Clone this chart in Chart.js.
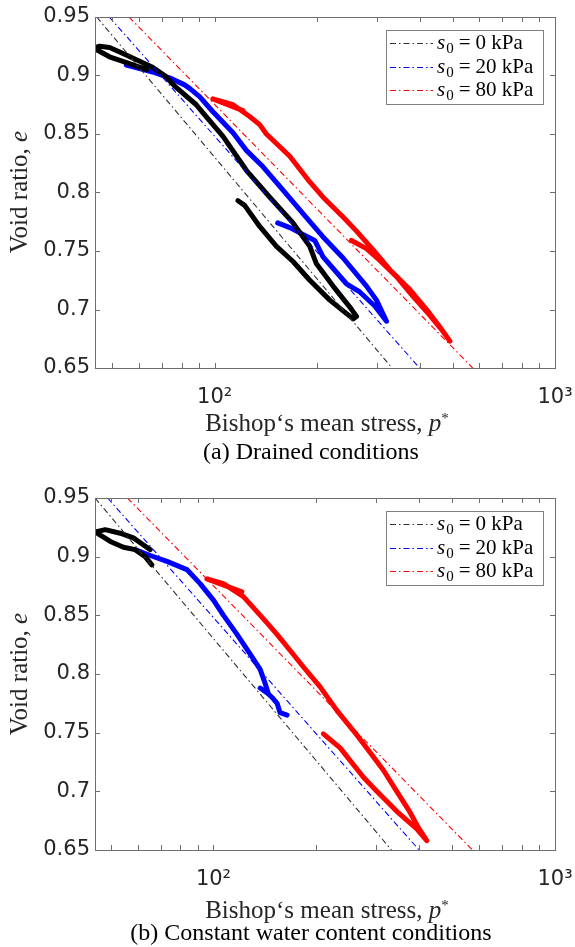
<!DOCTYPE html>
<html>
<head>
<meta charset="utf-8">
<script src="https://cdn.jsdelivr.net/npm/chart.js@4.4.0/dist/chart.umd.min.js"></script>
<style>
  body { margin: 0; background: #fff; }
  #page { position: relative; width: 575px; height: 947px; overflow: hidden; }
  canvas { position: absolute; left: 0; }
  .ytitle, .xtitle, .caption {
    position: absolute; white-space: nowrap; line-height: 1;
    font-family: "Liberation Serif", "Times New Roman", serif;
  }
  .ytitle { left: 18px; font-size: 25px; color: #262626; transform: translate(-50%, -50%) rotate(-90deg); }
  .xtitle { left: 327px; font-size: 25px; color: #262626; transform: translateX(-50%); }
  .caption { left: 311px; font-size: 24px; color: #000; transform: translateX(-50%); }
  sup { font-size: 60%; line-height: 0; vertical-align: 0.55em; }
</style>
</head>
<body>
<div id="page">
  <canvas id="drained" width="575" height="470" style="top:0"></canvas>
  <canvas id="cwc" width="575" height="477" style="top:470px"></canvas>

  <div class="ytitle" style="top:192px">Void ratio, <i>e</i></div>
  <div class="xtitle" style="top:410px">Bishop‘s mean stress, <i>p</i><sup>*</sup></div>
  <div class="caption" style="top:439px">(a) Drained conditions</div>

  <div class="ytitle" style="top:674px">Void ratio, <i>e</i></div>
  <div class="xtitle" style="top:897px">Bishop‘s mean stress, <i>p</i><sup>*</sup></div>
  <div class="caption" style="top:920px">(b) Constant water content conditions</div>
</div>

<script>
// axes
const yTicks = [0.65, 0.7, 0.75, 0.8, 0.85, 0.9, 0.95];
const xTickValues = [50, 60, 70, 80, 90, 100, 200, 300, 400, 500, 600, 700, 800, 900, 1000];
const xLabelValues = [100, 1000];
const xLabelText = ["10²", "10³"];

// reference lines (same in both panels)
const refS0 = [0, 20, 80];
const refE = [0.95, 0.65];
const refP = [[45, 332], [49, 400], [56, 573]];

// (a) drained
const drainedP0 = [63.1, 55.1, 49.1, 45.0, 44.6, 45.9, 49.1, 52.6, 57.4, 65.7, 71.3, 76.3, 88.3, 92.4, 105.8, 123.9, 145.1, 169.9, 190.3, 199.1, 222.8, 251.2, 261.1, 255.1, 217.9, 190.3, 169.9, 151.9, 135.6, 122.5, 117.1];
const drainedE0 = [0.905, 0.911, 0.916, 0.922, 0.924, 0.925, 0.924, 0.920, 0.915, 0.907, 0.900, 0.891, 0.875, 0.868, 0.848, 0.819, 0.796, 0.774, 0.754, 0.739, 0.720, 0.701, 0.694, 0.692, 0.708, 0.725, 0.741, 0.754, 0.771, 0.789, 0.793];
const drainedP20 = [55.0, 60.2, 65.7, 73.7, 81.6, 84.4, 90.3, 98.8, 113.2, 123.9, 138.7, 158.8, 181.8, 208.2, 238.4, 279.3, 298.9, 319.8, 295.4, 266.9, 243.9, 208.2, 196.8, 166.2, 153.2];
const drainedE20 = [0.909, 0.906, 0.903, 0.898, 0.892, 0.889, 0.882, 0.869, 0.851, 0.836, 0.822, 0.802, 0.782, 0.762, 0.744, 0.720, 0.708, 0.690, 0.703, 0.715, 0.722, 0.745, 0.759, 0.770, 0.774];
const drainedP80 = [121.1, 98.8, 113.2, 126.7, 135.6, 141.9, 166.2, 190.3, 208.2, 238.4, 261.1, 292.1, 327.0, 374.6, 419.4, 458.9, 491.1, 469.4, 428.9, 383.1, 342.2, 305.6, 279.3, 252.3];
const drainedE80 = [0.870, 0.880, 0.875, 0.865, 0.858, 0.850, 0.831, 0.809, 0.796, 0.779, 0.767, 0.751, 0.734, 0.717, 0.700, 0.685, 0.673, 0.681, 0.695, 0.711, 0.728, 0.742, 0.752, 0.759];

// (b) constant water content
const cwP0 = [65.3, 62.4, 58.3, 53.3, 48.2, 45.1, 49.9, 54.5, 59.0, 63.1, 66.0];
const cwE0 = [0.906, 0.910, 0.916, 0.920, 0.923, 0.921, 0.913, 0.908, 0.906, 0.900, 0.893];
const cwP20 = [59.0, 65.3, 73.1, 83.6, 91.4, 100.0, 107.0, 117.1, 128.1, 137.0, 141.7, 144.9, 137.0, 144.9, 148.5, 153.6, 156.7, 164.3];
const cwE20 = [0.906, 0.901, 0.896, 0.889, 0.877, 0.863, 0.850, 0.834, 0.817, 0.804, 0.792, 0.783, 0.788, 0.783, 0.780, 0.775, 0.767, 0.765];
const cwP80 = [121.1, 95.7, 107.0, 122.4, 140.1, 153.3, 167.7, 183.4, 205.3, 229.7, 262.9, 287.5, 314.5, 344.1, 376.5, 398.1, 421.3, 393.8, 344.1, 300.8, 274.8, 234.9, 209.8];
const cwE80 = [0.870, 0.881, 0.877, 0.866, 0.847, 0.834, 0.820, 0.806, 0.789, 0.769, 0.748, 0.733, 0.718, 0.700, 0.682, 0.669, 0.658, 0.668, 0.683, 0.700, 0.712, 0.737, 0.749];

const refColors = ["#303030", "#0000ff", "#ff0000"];
const curveColors = ["#000000", "#0000ff", "#ff0000"];
const dashDot = [6, 3, 1.5, 3];
const axisColor = "#6e6e6e";

function buildDatasets(curves) {
  const sets = refP.map((pp, i) => ({
    label: "s0 = " + refS0[i] + " kPa",
    data: pp.map((p, k) => ({ x: p, y: refE[k] })),
    showLine: true,
    borderColor: refColors[i],
    borderWidth: 1.1,
    borderDash: dashDot,
    pointRadius: 0
  }));
  curves.forEach((c, i) => sets.push({
    label: "test, s0 = " + refS0[i] + " kPa",
    data: c[0].map((p, k) => ({ x: p, y: c[1][k] })),
    showLine: true,
    borderColor: curveColors[i],
    borderWidth: 5,
    borderJoinStyle: "round",
    borderCapStyle: "round",
    pointRadius: 0
  }));
  return sets;
}

// box + inward ticks on all four sides (MATLAB style)
const framePlugin = {
  id: "frame",
  afterDatasetsDraw(chart) {
    const { ctx, chartArea: a, scales: { x, y } } = chart;
    ctx.save();
    ctx.strokeStyle = axisColor;
    ctx.lineWidth = 1;
    ctx.beginPath();
    xTickValues.forEach(v => {
      const px = Math.round(x.getPixelForValue(v)) + 0.5;
      ctx.moveTo(px, a.bottom); ctx.lineTo(px, a.bottom - 5);
      ctx.moveTo(px, a.top); ctx.lineTo(px, a.top + 5);
    });
    yTicks.forEach(v => {
      const py = Math.round(y.getPixelForValue(v)) + 0.5;
      ctx.moveTo(a.left, py); ctx.lineTo(a.left + 5, py);
      ctx.moveTo(a.right, py); ctx.lineTo(a.right - 5, py);
    });
    ctx.stroke();
    ctx.strokeRect(Math.round(a.left) + 0.5, Math.round(a.top) + 0.5, Math.round(a.width), Math.round(a.height));
    ctx.restore();
  }
};

// legend box inside the axes, top right
const legendPlugin = {
  id: "boxLegend",
  afterDraw(chart) {
    const { ctx, chartArea: a } = chart;
    const x0 = Math.round(a.right) - 169, y0 = Math.round(a.top) + 13;
    ctx.save();
    ctx.fillStyle = "#fff";
    ctx.fillRect(x0, y0, 157, 74);
    ctx.strokeStyle = "#808080";
    ctx.lineWidth = 1;
    ctx.strokeRect(x0 + 0.5, y0 + 0.5, 157, 74);
    refS0.forEach((s0, i) => {
      const yc = Math.round(y0 + 13 + i * 23.5);
      ctx.strokeStyle = refColors[i];
      ctx.lineWidth = 1;
      ctx.setLineDash(dashDot);
      ctx.beginPath();
      ctx.moveTo(x0 + 4, yc + 0.5);
      ctx.lineTo(x0 + 47, yc + 0.5);
      ctx.stroke();
      ctx.setLineDash([]);
      ctx.fillStyle = "#000";
      ctx.textBaseline = "alphabetic";
      const yb = yc + 6;
      let x = x0 + 51;
      ctx.font = 'italic 21px "Liberation Serif"';
      ctx.fillText("s", x, yb);
      x += ctx.measureText("s").width + 1;
      ctx.font = '15px "Liberation Serif"';
      ctx.fillText("0", x, yb + 4);
      x += ctx.measureText("0").width + 5;
      ctx.font = '21px "Liberation Serif"';
      ctx.fillText("=", x, yb);
      x += ctx.measureText("=").width + 5;
      ctx.fillText(s0 + " kPa", x, yb);
    });
    ctx.restore();
  }
};

function makeChart(id, curves, xMin, padTop, axisH) {
  const tickFont = { family: "DejaVu Sans", size: 21 };
  return new Chart(document.getElementById(id), {
    type: "scatter",
    data: { datasets: buildDatasets(curves) },
    options: {
      responsive: false,
      animation: false,
      events: [],
      layout: { padding: { top: padTop, right: 20, left: 0, bottom: 0 } },
      plugins: { legend: { display: false }, tooltip: { enabled: false } },
      scales: {
        x: {
          type: "logarithmic",
          min: xMin,
          max: 1000,
          grid: { display: false, drawTicks: false },
          border: { display: false },
          afterBuildTicks: s => { s.ticks = xLabelValues.map(v => ({ value: v })); },
          afterFit: s => { s.height = axisH; s.paddingLeft = 0; s.paddingRight = 0; },
          ticks: {
            padding: 17, autoSkip: false, maxRotation: 0, color: "#262626", font: tickFont,
            callback: v => xLabelText[xLabelValues.indexOf(v)]
          }
        },
        y: {
          min: 0.65,
          max: 0.95,
          grid: { display: false, drawTicks: false },
          border: { display: false },
          afterBuildTicks: s => { s.ticks = yTicks.map(v => ({ value: v })); },
          afterFit: s => { s.width = 95; s.paddingTop = 0; s.paddingBottom = 0; },
          ticks: {
            padding: 5, color: "#262626", font: tickFont,
            callback: v => String(+v.toFixed(2))
          }
        }
      }
    },
    plugins: [framePlugin, legendPlugin]
  });
}

makeChart("drained", [[drainedP0, drainedE0], [drainedP20, drainedE20], [drainedP80, drainedE80]], 44.5, 17, 102);
makeChart("cwc", [[cwP0, cwE0], [cwP20, cwE20], [cwP80, cwE80]], 45, 28, 97);
</script>
</body>
</html>
